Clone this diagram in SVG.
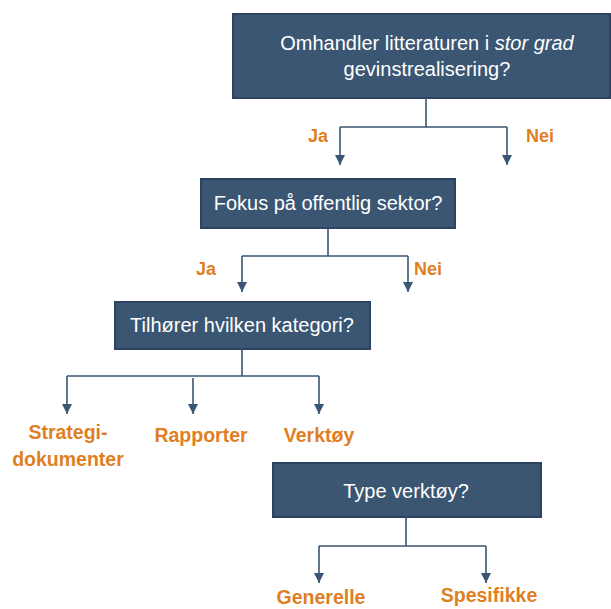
<svg xmlns="http://www.w3.org/2000/svg" width="611" height="609" viewBox="0 0 611 609">
<defs>
<marker id="arr" markerWidth="10" markerHeight="10" refX="10" refY="5" orient="auto" markerUnits="userSpaceOnUse" viewBox="0 0 10 10">
<path d="M0,0 L10,5 L0,10 Z" fill="#3B5672"/>
</marker>
</defs>
<style>
.box{fill:#3A5673;stroke:#2C4461;stroke-width:2}
.q{font-family:"Liberation Sans",Arial,sans-serif;font-size:20px;fill:#FFFFFF;text-anchor:middle}
.lab{font-family:"Liberation Sans",Arial,sans-serif;font-size:19.5px;font-weight:bold;fill:#E07F1F;text-anchor:middle}
.yn{font-family:"Liberation Sans",Arial,sans-serif;font-size:18px;font-weight:bold;fill:#E07F1F;text-anchor:middle}
.c{fill:none;stroke:#3B5672;stroke-width:1.6}
</style>
<rect width="611" height="609" fill="#FFFFFF"/>
<g id="n1">
<rect class="box" x="233" y="14" width="377" height="84"/>
<text class="q" x="427" y="50">Omhandler litteraturen i <tspan font-style="italic">stor grad</tspan></text>
<text class="q" x="427" y="76">gevinstrealisering?</text>
</g>
<g id="n2">
<rect class="box" x="201" y="179" width="254" height="49"/>
<text class="q" x="328" y="210">Fokus på offentlig sektor?</text>
</g>
<g id="n3">
<rect class="box" x="115" y="302" width="255" height="47"/>
<text class="q" x="242" y="332">Tilhører hvilken kategori?</text>
</g>
<g id="n4">
<rect class="box" x="273" y="463" width="268" height="54"/>
<text class="q" x="406" y="498">Type verktøy?</text>
</g>
<g id="labels">
<text class="yn" x="318" y="142">Ja</text>
<text class="yn" x="540" y="142">Nei</text>
<text class="yn" x="206" y="275">Ja</text>
<text class="yn" x="428" y="275">Nei</text>
<text class="lab" x="68" y="439">Strategi-</text>
<text class="lab" x="68" y="466">dokumenter</text>
<text class="lab" x="201" y="442">Rapporter</text>
<text class="lab" x="319" y="442">Verktøy</text>
<text class="lab" x="321" y="604">Generelle</text>
<text class="lab" x="489" y="602">Spesifikke</text>
</g>
<g id="connectors">
<path class="c" d="M426,98 V127 M340,127 H507"/>
<path class="c" d="M340,127 V165" marker-end="url(#arr)"/>
<path class="c" d="M507,127 V165" marker-end="url(#arr)"/>
<path class="c" d="M328,228 V256 M242,256 H408"/>
<path class="c" d="M242,256 V292" marker-end="url(#arr)"/>
<path class="c" d="M408,256 V292" marker-end="url(#arr)"/>
<path class="c" d="M242,349 V376 M67,376 H319"/>
<path class="c" d="M67,376 V414" marker-end="url(#arr)"/>
<path class="c" d="M193,378 V414" marker-end="url(#arr)"/>
<path class="c" d="M319,376 V414" marker-end="url(#arr)"/>
<path class="c" d="M406,517 V546 M319,546 H486"/>
<path class="c" d="M319,546 V583" marker-end="url(#arr)"/>
<path class="c" d="M486,546 V583" marker-end="url(#arr)"/>
</g>
</svg>
